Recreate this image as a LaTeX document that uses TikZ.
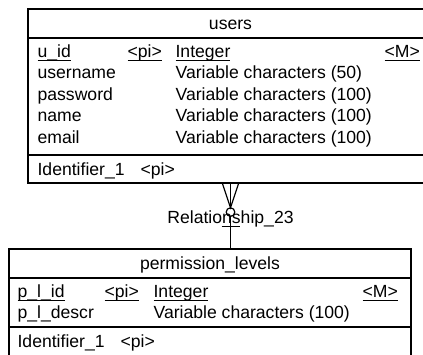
\documentclass[tikz,border=0pt]{standalone}
\usepackage{fontspec}
\setmainfont{Liberation Sans}
\usetikzlibrary{calc}
\tikzset{
  entity/.style={draw, line width=1.6pt, inner sep=0pt},
  field/.style={anchor=base west, inner sep=0pt, font=\fontsize{17.6}{21}\selectfont},
  title/.style={field, anchor=base},
}
% 主键下划线
\newcommand\pdkey[1]{\setbox0\hbox{#1}\rlap{\rule[-3.6pt]{\wd0}{1.1pt}}\box0}

\begin{document}
\begin{tikzpicture}[x=1pt, y=-1pt, line width=1.2pt]
    \clip (0,0) rectangle (423,354);

    % 绘制实体 users
    \node[entity, minimum width=405pt, minimum height=174pt] (users) at (230.5,96) {};
    \draw (users.west |- 0,38) -- (users.east |- 0,38);
    \draw (users.west |- 0,155) -- (users.east |- 0,155);
    \node[title] (users-title) at (230.5,29) {users};

    % users 的属性
    \node[field] (u-id) at (37,57) {\pdkey{u\_id}};
    \node[field] (u-pi) at (127,57) {\pdkey{<pi>}};
    \node[field] (u-int) at (175,57) {\pdkey{Integer}};
    \node[field] (u-m) at (384,57) {\pdkey{<M>}};
    \foreach \n/\t [count=\i] in {username/Variable characters (50),
        password/Variable characters (100), name/Variable characters (100),
        email/Variable characters (100)} {
      \node[field] (u-name-\i) at (37,57+21.6*\i) {\n};
      \node[field] (u-type-\i) at (175,57+21.6*\i) {\t};
    }
    \node[field] (u-ident) at (37,175) {Identifier\_1};
    \node[field] (u-ident-pi) at (140,175) {<pi>};

    % 绘制实体 permission_levels
    \node[entity, minimum width=402pt, minimum height=131pt] (perm) at (210,314.5) {};
    \draw (perm.west |- 0,278) -- (perm.east |- 0,278);
    \draw (perm.west |- 0,327) -- (perm.east |- 0,327);
    \node[title] (perm-title) at (210,269) {permission\_levels};

    % permission_levels 的属性
    \node[field] (p-id) at (17,297) {\pdkey{p\_l\_id}};
    \node[field] (p-pi) at (104,297) {\pdkey{<pi>}};
    \node[field] (p-int) at (153,297) {\pdkey{Integer}};
    \node[field] (p-m) at (362,297) {\pdkey{<M>}};
    \node[field] (p-descr) at (17,318.5) {p\_l\_descr};
    \node[field] (p-type) at (153,318.5) {Variable characters (100)};
    \node[field] (p-ident) at (17,347) {Identifier\_1};
    \node[field] (p-ident-pi) at (120,347) {<pi>};

    % 绘制关系 Relationship_23
    \node[title] (rel) at (230.5,223) {Relationship\_23};
    \coordinate (crow) at ($(users.south)+(0,24)$);
    \draw ($(users.south)+(-8,0)$) -- (crow) -- ($(users.south)+(8,0)$);
    \draw (users.south) -- (crow);
    \draw (crow) ++(0,4.3) circle[radius=4.3pt];
    \draw ($(crow)+(0,8.6)$) -- (users.south |- perm.north);
    \draw ($(users.south)+(-9,43)$) -- ($(users.south)+(9,43)$);
\end{tikzpicture}
\end{document}
